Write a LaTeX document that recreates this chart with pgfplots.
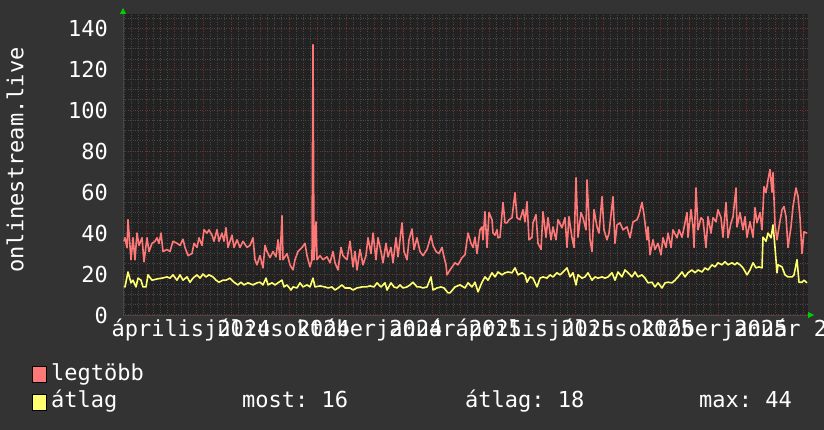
\documentclass[border=0pt]{standalone}
\usepackage{fontspec}
\setmainfont{DejaVu Sans Mono}
\usepackage{pgfplots}
\pgfplotsset{compat=1.18}
\usetikzlibrary{arrows.meta}
\definecolor{bgout}{HTML}{333333}
\definecolor{bgin}{HTML}{222222}
\definecolor{gridmaj}{HTML}{6E3434}
\definecolor{gridmin}{HTML}{464646}
\definecolor{maxline}{HTML}{FF7878}
\definecolor{avgline}{HTML}{FFFF70}
\definecolor{arrowg}{HTML}{00D000}
\frenchspacing

\begin{document}
\begin{tikzpicture}
\fill[bgout] (0,0) rectangle (824pt,430pt);
\begin{axis}[
  at={(123pt,115pt)}, anchor=south west,
  scale only axis, width=685pt, height=301pt,
  xmin=123, xmax=808, ymin=0, ymax=147,
  axis background/.style={fill=bgin},
  axis lines=left,
  axis line style={draw=gridmin, line width=0.8pt, shorten >=-6pt,
    -{Triangle[color=arrowg,length=6pt,width=6pt]}},
  ytick={0,20,...,160}, minor y tick num=3,
  xtick={117.4,146,...,833}, minor x tick num=3,
  xticklabels={},
  grid=both,
  major grid style={draw=gridmaj, dotted, line width=1pt},
  minor grid style={draw=gridmin, dotted, line width=1pt},
  major tick length=0pt, minor tick length=0pt,
  ticklabel style={font=\fontsize{22}{26}\selectfont, text=white, inner sep=0pt},
  yticklabel style={anchor=east, xshift=-15pt},
  /pgf/number format/assume math mode=true,
  extra x ticks={191,277,363,449,535,621,708,794},
  extra x tick labels={április 2024,július 2024,október 2024,január 2025,április 2025,július 2025,október 2025,január 2026},
  extra x tick style={grid=none, major tick length=0pt,
    xticklabel style={anchor=base, yshift=-22pt}},
]
% legtöbb
\addplot[maxline, line width=1.6pt, line join=round] coordinates {
(124,36) (125,37.7) (127,32.8) (128,46.5) (131,27) (133,37.7) (135,27) (137,40)
(139,34) (142,37.7) (144,26) (147,37.7) (149,31) (152,35) (155,36) (157,37.7)
(159,35) (161,40) (163,31) (167,32) (170,31) (173,36) (177,35) (180,34)
(183,37) (185,33) (188,29) (192,30) (194,35) (197,33) (199,37.7) (202,34)
(204,41.6) (207,40) (209,41.6) (212,39) (214,36) (217,41.6) (219,36) (222,40)
(224,36) (226,42.6) (228,33) (232,39) (234,33) (237,36.7) (240,33) (243,36)
(247,33) (250,34) (253,37.7) (255,27) (257,24.5) (260,29) (263,23) (265,34)
(267,31) (270,28) (273,31) (276,28.4) (278,36.7) (280,27) (282,48.5) (283,27)
(287,30) (290,24.5) (293,22) (295,27) (298,31) (302,33) (305,35) (307,29)
(310,23.5) (312,27) (313,132) (314,27) (316,45.5) (317,27) (320,29) (323,27)
(327,28.4) (330,25.5) (333,31) (335,25.5) (338,22) (341,33) (343,29) (347,27)
(350,36) (353,23.5) (355,31) (357,22) (360,32) (363,24.5) (366,29) (368,37.7)
(371,30) (373,40) (376,27) (378,37.7) (381,31) (383,25.5) (386,35) (388,28.4)
(391,33) (393,25.5) (396,37.7) (398,28.4) (402,45) (404,31) (407,27) (409,36.7)
(412,42) (414,32) (417,37.7) (420,31) (423,29) (427,32) (431,38.7) (433,34)
(436,31) (439,30) (442,33) (444,28.4) (446,24.5) (447,19.6) (450,22) (455,25.5)
(458,24.5) (462,28) (465,29.4) (468,40) (471,35) (473,33) (475,38) (477,30)
(480,41.6) (482,43) (483,36.7) (485,50.4) (487,33) (489,50) (492,46.5) (493,40)
(495,39) (497,41.6) (498,37.7) (500,38) (503,55) (505,45) (507,45) (509,46.5)
(512,47.5) (515,59.7) (517,47.5) (520,46.5) (523,51.4) (525,45.5) (527,55.3) (529,36.7)
(532,38) (533,45) (536,49) (538,35) (541,32) (543,50.4) (546,38) (548,47.5)
(551,36.7) (553,43) (556,36.7) (558,46.5) (562,42.6) (565,47.5) (567,33) (569,48)
(572,37.7) (574,33) (576,67) (578,38) (581,50) (583,47.5) (586,41.6) (587,66)
(590,36.7) (592,31) (594,51.4) (597,43) (599,40) (602,57.8) (604,41.6) (607,36.7)
(609,40) (613,57.8) (615,35) (617,44) (620,45) (623,41.6) (627,43) (630,37.7)
(633,45.5) (637,46.5) (639,49) (642,55) (644,49) (647,36.7) (648,43) (650,29.4)
(653,36.7) (655,32) (658,35) (661,29.4) (663,37.7) (666,33) (668,40) (671,33)
(673,41.6) (677,37.7) (679,41.6) (682,38) (684,42.6) (687,50) (688,38) (691,51.4)
(693,43) (694,33) (696,62) (698,41.6) (701,47.5) (703,46.5) (706,33) (708,48)
(711,40) (713,47.5) (716,45.5) (718,51.4) (721,47.5) (723,38) (726,55) (728,37.7)
(731,45) (733,48) (736,62) (737,43) (740,50) (743,41.6) (745,48) (747,38)
(750,45.5) (753,38) (755,52.4) (757,45) (760,50) (762,41.6) (764,62.7) (766,59.7)
(768,66) (770,71) (772,60) (773,69.5) (775,44) (777,36.7) (779,43) (782,51.4)
(784,53) (786,48) (788,33) (791,43) (793,53) (796,62) (798,58) (800,47.5)
(802,30) (804,40.6) (807,40)
};
% átlag
\addplot[avgline, line width=1.6pt, line join=round] coordinates {
(124,14) (125,13.7) (128,21) (131,15.7) (133,17) (136,13.7) (138,18) (141,17)
(143,13.7) (146,13.7) (148,19.6) (152,17) (157,17.6) (162,18) (167,18.6) (170,18)
(173,19.6) (177,17) (180,19.6) (183,17) (187,18.6) (190,16) (193,18) (197,19.6)
(200,18) (203,20) (206,18.6) (209,19.6) (213,18.6) (216,17) (219,16) (223,17)
(226,17) (230,18) (234,16) (238,14.7) (241,16) (244,14.7) (248,15.7) (253,14.7)
(257,15.7) (260,16) (263,14.7) (266,18) (268,14.7) (272,15.7) (275,14.7) (278,15.7)
(282,17) (284,13.7) (287,14.7) (291,12.2) (293,13.7) (297,13.2) (300,15.7) (303,13.7)
(307,14.7) (310,13.7) (313,18) (315,13.7) (320,14.2) (325,13.7) (328,13.2) (332,13.7)
(335,12.2) (338,13.2) (342,14.7) (345,13.2) (350,13.2) (353,12.2) (357,13.2) (362,13.7)
(366,13.7) (370,14.2) (374,13.7) (377,15.7) (381,13.7) (385,15.7) (387,12.2) (391,15.7)
(394,13.7) (397,13.2) (400,14.7) (403,13.2) (407,13.7) (410,14.7) (413,16) (417,13.7)
(420,13.7) (423,13.2) (427,13.7) (431,18.6) (433,12.2) (437,13.2) (441,13.7) (444,13.2)
(448,10.8) (450,10.8) (455,13.7) (460,14.7) (465,13.2) (468,15.7) (472,13.7) (475,16)
(478,11.3) (482,16) (485,18.6) (488,17) (492,20.6) (495,18.6) (498,21) (502,19.6)
(505,20.6) (508,21) (512,20.6) (515,23) (518,19.6) (522,20.6) (525,19.6) (527,16)
(530,18.6) (533,18) (537,13.7) (540,18) (543,18.6) (547,18) (550,19.6) (553,18.6)
(557,20.6) (560,19.6) (563,21) (567,23) (570,18.6) (573,20.6) (576,14.7) (578,19.6)
(582,18) (585,18.6) (588,20.6) (592,17) (595,18.6) (598,18) (602,18.6) (605,18)
(608,18.6) (612,20.6) (615,17) (618,21) (622,18.6) (625,22) (628,20.6) (632,18.6)
(635,21) (638,18.6) (642,19.6) (645,18) (648,15.7) (652,16) (655,13.7) (658,15.7)
(662,13.2) (665,15.7) (668,16) (672,15.7) (675,17) (678,18.6) (682,21) (685,18.6)
(688,20.6) (692,22) (695,20.6) (698,22) (702,21) (705,23) (708,22) (712,24.5)
(715,23.5) (718,25.5) (722,24.5) (725,26) (728,24.5) (732,25.5) (735,24.5) (737,25.5)
(740,24.5) (743,23) (747,19.6) (750,22) (753,25.5) (756,23) (759,23.5) (762,23)
(763,38) (766,36) (768,40) (771,37.7) (773,44) (775,33) (777,20.6) (778,24.5)
(782,23.5) (785,19.6) (788,18.6) (792,18.6) (794,19.6) (797,27) (799,16) (802,16)
(804,17) (807,15.7)
};
\end{axis}
\node[rotate=90, text=white, font=\fontsize{22}{26}\selectfont] at (15pt,270pt) {onlinestream.live};
\fill[maxline, draw=black, line width=0.8pt] (32pt,48pt) rectangle (46pt,64pt);
\fill[avgline, draw=black, line width=0.8pt] (32pt,20pt) rectangle (46pt,36pt);
\begin{scope}[every node/.style={anchor=base west, inner sep=0pt, text=white, font=\fontsize{22}{26}\selectfont}]
\node at (51pt,49pt) {legtöbb};
\node at (51pt,22pt) {átlag};
\node at (242pt,22pt) {most: 16};
\node at (465pt,22pt) {átlag: 18};
\node at (699pt,22pt) {max: 44};
\end{scope}
\pgfresetboundingbox
\useasboundingbox (0,0) rectangle (824pt,430pt);
\end{tikzpicture}
\end{document}
